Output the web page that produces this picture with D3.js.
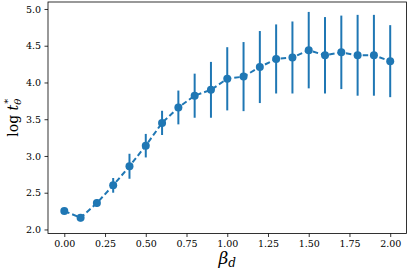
<!DOCTYPE html>
<html>
<head>
<meta charset="utf-8">
<script src="https://d3js.org/d3.v7.min.js"></script>
<style>
  body { margin: 0; background: white; }
  text { font-family: "DejaVu Serif", serif; fill: #000; }
</style>
</head>
<body>
<div id="chart"></div>
<script>
// data
const beta = [0.0, 0.1, 0.2, 0.3, 0.4, 0.5, 0.6, 0.7, 0.8, 0.9, 1.0,
              1.1, 1.2, 1.3, 1.4, 1.5, 1.6, 1.7, 1.8, 1.9, 2.0]
const logT = [2.25, 2.16, 2.36, 2.60, 2.86, 3.14, 3.45, 3.66, 3.82, 3.90, 4.05,
              4.08, 4.21, 4.32, 4.34, 4.44, 4.37, 4.41, 4.37, 4.37, 4.29]
const errT = [0.02, 0.05, 0.05, 0.10, 0.17, 0.16, 0.165, 0.23, 0.30, 0.38, 0.43,
              0.47, 0.49, 0.47, 0.49, 0.52, 0.52, 0.50, 0.55, 0.55, 0.49]
const xTicks = [0.00, 0.25, 0.50, 0.75, 1.00, 1.25, 1.50, 1.75, 2.00]
const yTicks = [2.0, 2.5, 3.0, 3.5, 4.0, 4.5, 5.0]

const width = 408, height = 275
const margin = {left: 48, right: 1.5, top: 2, bottom: 41.5}
const blue = '#1f77b4'

const points = beta.map((b, i) => ({b: b, v: logT[i], e: errT[i]}))

const svg = d3.select('#chart').append('svg')
  .attr('width', width)
  .attr('height', height)

const x = d3.scaleLinear()
  .domain([-0.1, 2.1])
  .range([margin.left, width - margin.right])

const y = d3.scaleLinear()
  .domain([1.945, 5.095])
  .range([height - margin.bottom, margin.top])

// error bars
svg.append('g')
  .selectAll('line')
  .data(points)
  .join('line')
  .attr('x1', d => x(d.b))
  .attr('x2', d => x(d.b))
  .attr('y1', d => y(d.v - d.e))
  .attr('y2', d => y(d.v + d.e))
  .attr('stroke', blue)
  .attr('stroke-width', 2)

// dashed line
const line = d3.line().x(d => x(d.b)).y(d => y(d.v))
svg.append('path')
  .datum(points)
  .attr('d', line)
  .attr('fill', 'none')
  .attr('stroke', blue)
  .attr('stroke-width', 2)
  .attr('stroke-dasharray', '5.5,3')

// markers
svg.append('g')
  .selectAll('circle')
  .data(points)
  .join('circle')
  .attr('cx', d => x(d.b))
  .attr('cy', d => y(d.v))
  .attr('r', 4)
  .attr('fill', blue)

// axes
const xAxis = d3.axisBottom(x)
  .tickValues(xTicks)
  .tickFormat(d3.format('.2f'))
  .tickSizeInner(3.5)
  .tickSizeOuter(0)
  .tickPadding(3.5)

const yAxis = d3.axisLeft(y)
  .tickValues(yTicks)
  .tickFormat(d3.format('.1f'))
  .tickSizeInner(3.5)
  .tickSizeOuter(0)
  .tickPadding(3.5)

const gx = svg.append('g')
  .attr('transform', `translate(0 ${height - margin.bottom})`)
  .call(xAxis)
const gy = svg.append('g')
  .attr('transform', `translate(${margin.left} 0)`)
  .call(yAxis)

for (const g of [gx, gy]) {
  g.select('.domain').remove()
  g.selectAll('text').attr('font-size', 9.5).attr('font-family', '"DejaVu Serif", serif').attr('fill', '#000')
  g.selectAll('line').attr('stroke', '#000').attr('stroke-width', 0.8)
}

// frame
svg.append('rect')
  .attr('x', margin.left)
  .attr('y', margin.top)
  .attr('width', width - margin.right - margin.left)
  .attr('height', height - margin.bottom - margin.top)
  .attr('fill', 'none')
  .attr('stroke', '#000')
  .attr('stroke-width', 0.8)

// x label: beta_d
const xl = svg.append('text')
  .attr('x', (margin.left + width - margin.right) / 2)
  .attr('y', 264)
  .attr('text-anchor', 'middle')
  .attr('font-size', 17)
xl.append('tspan').attr('font-style', 'italic').text('β')
xl.append('tspan').attr('font-style', 'italic').attr('font-size', 12).attr('dy', 3).text('d')

// y label: log t_theta^*
const yl = svg.append('text')
  .attr('transform', `translate(18 ${(margin.top + height - margin.bottom) / 2}) rotate(-90)`)
  .attr('text-anchor', 'middle')
  .attr('font-size', 14)
yl.append('tspan').text('log ')
yl.append('tspan').attr('font-style', 'italic').text('t')
yl.append('tspan').attr('font-style', 'italic').attr('font-size', 10).attr('dy', 3).text('θ')
yl.append('tspan').attr('font-size', 10).attr('dx', -5).attr('dy', -10).text('*')
</script>
</body>
</html>
